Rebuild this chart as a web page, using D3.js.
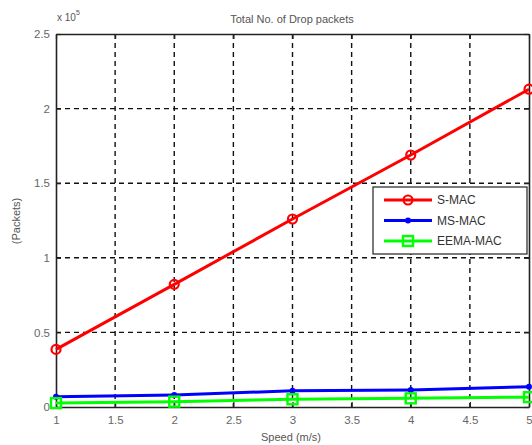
<!DOCTYPE html>
<html><head><meta charset="utf-8">
<script src="https://cdn.jsdelivr.net/npm/d3@7"></script>
<style>body{margin:0;background:#fff;}svg{display:block;font-family:"Liberation Sans",Arial,sans-serif;}</style>
</head><body><svg id="c" width="532" height="445"></svg>
<script>
const speeds = [1, 2, 3, 4, 5];
const smac = [0.386, 0.822, 1.26, 1.689, 2.13];
const msmac = [0.068, 0.08, 0.109, 0.114, 0.136];
const eemamac = [0.026, 0.036, 0.052, 0.058, 0.066];
const xTicks = [1, 1.5, 2, 2.5, 3, 3.5, 4, 4.5, 5];
const yTicks = [0, 0.5, 1, 1.5, 2, 2.5];
const seriesNames = ["S-MAC", "MS-MAC", "EEMA-MAC"];
const seriesColors = ["#ff0000", "#0000ff", "#00ff00"];

const svg = d3.select("#c");
const L = 56, R = 529, T = 34, B = 407;
const x = d3.scaleLinear().domain([1, 5]).range([L, R]);
const y = d3.scaleLinear().domain([0, 2.5]).range([B, T]);
const tickColor = "#666";

// grid
svg.append("g").selectAll("line").data(xTicks.slice(1, -1)).join("line")
  .attr("x1", d => x(d)).attr("x2", d => x(d)).attr("y1", T).attr("y2", B)
  .attr("stroke", "#111").attr("stroke-width", 1.4).attr("stroke-dasharray", "5,4");
svg.append("g").selectAll("line").data(yTicks.slice(1, -1)).join("line")
  .attr("y1", d => y(d)).attr("y2", d => y(d)).attr("x1", L).attr("x2", R)
  .attr("stroke", "#111").attr("stroke-width", 1.4).attr("stroke-dasharray", "5,4");

// axes
const xa = svg.append("g").attr("transform", `translate(0,${B})`)
  .call(d3.axisBottom(x).tickValues(xTicks).tickFormat(d3.format("")).tickSizeInner(-5).tickSizeOuter(0).tickPadding(9));
const xt = svg.append("g").attr("transform", `translate(0,${T})`)
  .call(d3.axisTop(x).tickValues(xTicks).tickFormat("").tickSizeInner(-5).tickSizeOuter(0));
const ya = svg.append("g").attr("transform", `translate(${L},0)`)
  .call(d3.axisLeft(y).tickValues(yTicks).tickFormat(d3.format("")).tickSizeInner(-5).tickSizeOuter(0).tickPadding(6));
const yr = svg.append("g").attr("transform", `translate(${R},0)`)
  .call(d3.axisRight(y).tickValues(yTicks).tickFormat("").tickSizeInner(-5).tickSizeOuter(0));
[xa, xt, ya, yr].forEach(g => {
  g.select(".domain").attr("stroke", "#222").attr("stroke-width", 1.6);
  g.selectAll(".tick line").attr("stroke", "#222").attr("stroke-width", 1.2);
  g.selectAll("text").attr("fill", tickColor).attr("font-size", 11.5);
});

// lines
const allData = [smac, msmac, eemamac];
const line = d3.line().x((d, i) => x(speeds[i])).y(d => y(d));
allData.forEach((vals, k) => {
  svg.append("path").datum(vals).attr("d", line).attr("fill", "none")
    .attr("stroke", seriesColors[k]).attr("stroke-width", 3);
});

function marker(g, k, cx, cy) {
  if (k === 0) {
    g.append("circle").attr("cx", cx).attr("cy", cy).attr("r", 4.5)
      .attr("fill", "none").attr("stroke", seriesColors[0]).attr("stroke-width", 2.2);
  } else if (k === 1) {
    g.append("circle").attr("cx", cx).attr("cy", cy).attr("r", 3).attr("fill", seriesColors[1]);
  } else {
    g.append("rect").attr("x", cx - 5).attr("y", cy - 5).attr("width", 10).attr("height", 10)
      .attr("fill", "none").attr("stroke", seriesColors[2]).attr("stroke-width", 2.4);
  }
}
const mg = svg.append("g");
allData.forEach((vals, k) => vals.forEach((v, i) => marker(mg, k, x(speeds[i]), y(v))));

// title and labels
svg.append("text").attr("x", 292).attr("y", 23).attr("text-anchor", "middle")
  .attr("font-size", 11).attr("fill", "#555").text("Total No. of Drop packets");
svg.append("text").attr("x", 291).attr("y", 441).attr("text-anchor", "middle")
  .attr("font-size", 11).attr("fill", "#555").text("Speed (m/s)");
svg.append("text").attr("transform", "translate(20,221) rotate(-90)").attr("text-anchor", "middle")
  .attr("font-size", 11).attr("fill", "#555").text("(Packets)");
const ex = svg.append("text").attr("x", 57).attr("y", 21).attr("font-size", 10).attr("fill", "#555");
ex.append("tspan").text("x 10");
ex.append("tspan").attr("dy", -6).attr("font-size", 7).text("5");

// legend
const lg = svg.append("g");
lg.append("rect").attr("x", 373).attr("y", 187).attr("width", 154).attr("height", 67)
  .attr("fill", "#fff").attr("stroke", "#222").attr("stroke-width", 1.2);
seriesNames.forEach((n, k) => {
  const ly = 200 + k * 20.5;
  lg.append("line").attr("x1", 384).attr("x2", 432).attr("y1", ly).attr("y2", ly)
    .attr("stroke", seriesColors[k]).attr("stroke-width", 3);
  marker(lg, k, 408, ly);
  lg.append("text").attr("x", 437).attr("y", ly + 4).attr("font-size", 12).attr("fill", "#333").text(n);
});
</script></body></html>
